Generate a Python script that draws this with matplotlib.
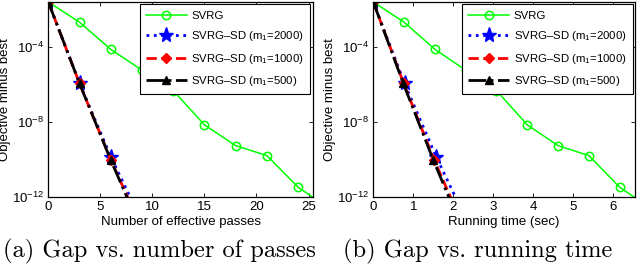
import numpy as np
import matplotlib
matplotlib.use('Agg')
import matplotlib.pyplot as plt
from matplotlib.ticker import FixedLocator, NullLocator

plt.rcParams['font.family'] = ['Liberation Sans', 'DejaVu Sans']
plt.rcParams['mathtext.fontset'] = 'custom'
plt.rcParams['mathtext.rm'] = 'Liberation Sans'
plt.rcParams['mathtext.it'] = 'Liberation Sans'
plt.rcParams['mathtext.bf'] = 'Liberation Sans'

# SVRG
passes_svrg = [0, 3, 6, 9, 12, 15, 18, 21, 24, 27]
time_svrg = [0, 0.77, 1.54, 2.31, 3.08, 3.85, 4.62, 5.39, 6.16, 6.93]
gap_svrg = [2.4e-2, 2.0e-3, 7.2e-5, 5.6e-6, 4.6e-7, 6.9e-9, 5.4e-10, 1.6e-10, 3.3e-12, 2.5e-13]

# SVRG-SD, three choices of m1
passes_sd = [0, 3, 6, 9]
time_sd2000 = [0, 0.78, 1.57, 2.35]
time_sd1000 = [0, 0.76, 1.52, 2.28]
time_sd500 = [0, 0.75, 1.50, 2.25]
gap_sd2000 = [2.4e-2, 1.1e-6, 1.4e-10, 4.7e-14]
gap_sd1000 = [2.4e-2, 1.1e-6, 9.5e-11, 2.0e-14]
gap_sd500 = [2.4e-2, 1.1e-6, 9.3e-11, 1.4e-14]

labels = ['SVRG', 'SVRG\u2013SD (m$_1$=2000)', 'SVRG\u2013SD (m$_1$=1000)', 'SVRG\u2013SD (m$_1$=500)']
xlabels = ['Number of effective passes', 'Running time (sec)']
captions = ['(a) Gap vs. number of passes', '(b) Gap vs. running time']


def draw(ax, x_svrg, x_sd, xlim, xticks):
    ax.semilogy(x_svrg, gap_svrg, '-o', color=(0, 1, 0), lw=1.1, ms=6,
                mfc='none', mew=1.1, label=labels[0])
    ax.semilogy(x_sd[0], gap_sd2000, ':*', color='b', lw=2, ms=11,
                label=labels[1])
    ax.semilogy(x_sd[1], gap_sd1000, '--D', color='r', lw=2, ms=5,
                label=labels[2])
    ax.semilogy(x_sd[2], gap_sd500, '-.^', color='k', lw=2, ms=6,
                label=labels[3])
    ax.set_xlim(*xlim)
    ax.set_ylim(10**-12, 10**-1.62)
    ax.set_xticks(xticks)
    ax.yaxis.set_major_locator(FixedLocator([1e-12, 1e-8, 1e-4]))
    ax.yaxis.set_minor_locator(NullLocator())
    ax.tick_params(direction='in', top=True, right=True, labelsize=9.5,
                   length=3, width=0.6, pad=3)
    for s in ax.spines.values():
        s.set_linewidth(0.9)
    ax.set_ylabel('Objective minus best', fontsize=9.5, labelpad=1)
    leg = ax.legend(loc='upper right', fontsize=8.2, handlelength=3.6,
                    labelspacing=0.75, borderaxespad=0.2, fancybox=False,
                    framealpha=1, borderpad=0.55, handletextpad=0.4)
    leg.get_frame().set_edgecolor('k')
    leg.get_frame().set_linewidth(0.8)


fig = plt.figure(figsize=(6.4, 2.69), dpi=100)
ax1 = fig.add_axes([0.0755, 0.2677, 0.4131, 0.725])
ax2 = fig.add_axes([0.5833, 0.2677, 0.4087, 0.725])

draw(ax1, passes_svrg, [passes_sd] * 3, (0, 25.4), range(0, 26, 5))
draw(ax2, time_svrg, [time_sd2000, time_sd1000, time_sd500], (0, 6.54), range(0, 7))

ax1.set_xlabel(xlabels[0], fontsize=9.5, labelpad=2)
ax2.set_xlabel(xlabels[1], fontsize=9.5, labelpad=2)

fig.text(0.249, 0.065, captions[0], ha='center', va='center', fontsize=17.6, family='cmr10')
fig.text(0.746, 0.065, captions[1], ha='center', va='center', fontsize=17.6, family='cmr10')

fig.savefig('out.png', dpi=100)
